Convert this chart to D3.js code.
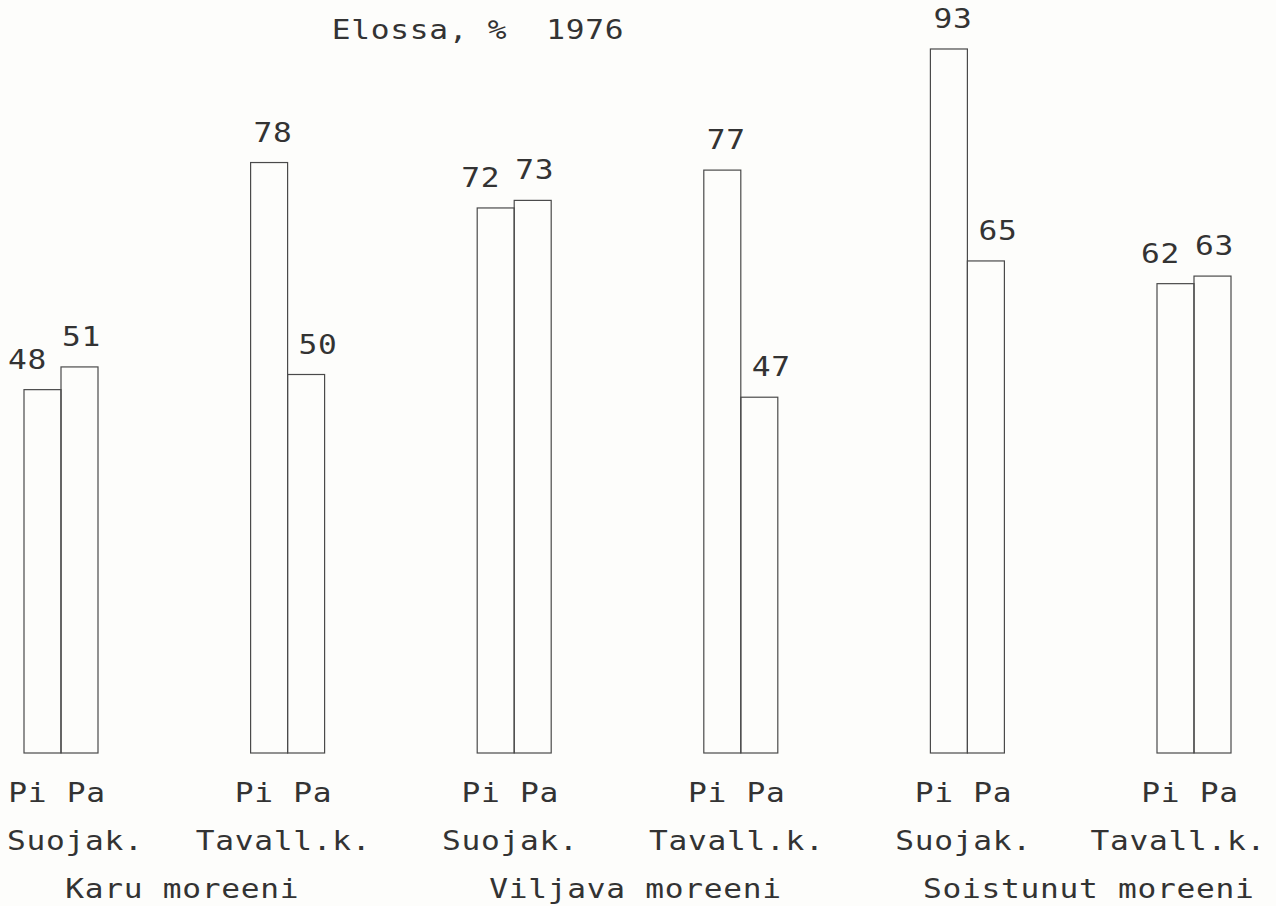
<!DOCTYPE html>
<html>
<head>
<meta charset="utf-8">
<script src="https://cdn.jsdelivr.net/npm/d3@7"></script>
<style>
  html, body { margin: 0; padding: 0; background: #fdfdfb; }
  svg { display: block; }
  text { font-family: "DejaVu Sans Mono", "Liberation Mono", monospace; fill: #333; white-space: pre; }
</style>
</head>
<body>
<svg id="chart" width="1276" height="906"></svg>
<script>
// ---- data ----
const title = "Elossa, %  1976";
const soils = ["Karu moreeni", "Viljava moreeni", "Soistunut moreeni"];
const treatments = ["Suojak.", "Tavall.k.", "Suojak.", "Tavall.k.", "Suojak.", "Tavall.k."];
const pairLabels = ["Pi Pa", "Pi Pa", "Pi Pa", "Pi Pa", "Pi Pa", "Pi Pa"];
const species = ["Pi", "Pa"];
const piValues = [48, 78, 72, 77, 93, 62];
const paValues = [51, 50, 73, 47, 65, 63];

// ---- layout ----
const W = 1276, H = 906;
const svg = d3.select("#chart");
svg.append("rect").attr("width", W).attr("height", H).attr("fill", "#fdfdfb");

const pairIds = d3.range(piValues.length);
const x = d3.scalePoint().domain(pairIds).range([61, 1194]);
const xs = d3.scaleBand().domain(species).range([-37, 37]).padding(0);
const y = d3.scaleLinear().domain([0, 100]).range([753, -4]);

const fs = 26, ls = 0.6, sx = 1.2;
const adv = (fs * 0.602 + ls) * sx;   // approx. advance per character

// keep a centred text of n characters inside the page
function fit(cx, n) {
  const half = n * adv / 2;
  return Math.min(Math.max(cx, half + 7), W - half - 10);
}

// stretched monospace text, anchored at centre
function label(sel, cls, data, cxf, yf, txt) {
  return sel.selectAll("text." + cls).data(data).join("text")
    .attr("class", cls)
    .attr("text-anchor", "middle")
    .attr("font-size", fs).attr("letter-spacing", ls)
    .attr("transform", (d, i) => `translate(${cxf(d, i)},${yf(d, i)}) scale(${sx},1)`)
    .text(txt);
}

// title
label(svg, "title", [title], () => 478, () => 39, d => d);

const bars = [];
pairIds.forEach(i => {
  const vals = [piValues[i], paValues[i]];
  const similar = Math.abs(vals[0] - vals[1]) < 5;
  species.forEach((s, j) => {
    bars.push({ pair: i, sp: s, v: vals[j],
      ldx: similar ? (j === 0 ? -15 : 2) : (j === 0 ? 4 : 12) });
  });
});

const g = svg.append("g");
g.selectAll("rect.bar").data(bars).join("rect")
  .attr("class", "bar")
  .attr("x", d => x(d.pair) + xs(d.sp))
  .attr("y", d => y(d.v))
  .attr("width", xs.bandwidth())
  .attr("height", d => y(0) - y(d.v))
  .attr("fill", "none")
  .attr("stroke", "#4a4a4a")
  .attr("stroke-width", 1.2);

label(g, "val", bars,
  d => x(d.pair) + xs(d.sp) + xs.bandwidth() / 2 + d.ldx,
  d => y(d.v) - 21,
  d => d.v);

// species row
label(svg, "sp", pairIds, i => fit(x(i) - 4, pairLabels[i].length), () => 802, i => pairLabels[i]);

// treatment row
label(svg, "tr", pairIds, i => fit(x(i) - 4, treatments[i].length), () => 850, i => treatments[i]);

// soil row
label(svg, "soil", soils, (d, k) => fit((x(2 * k) + x(2 * k + 1)) / 2 + 8, d.length), () => 898, d => d);
</script>
</body>
</html>
